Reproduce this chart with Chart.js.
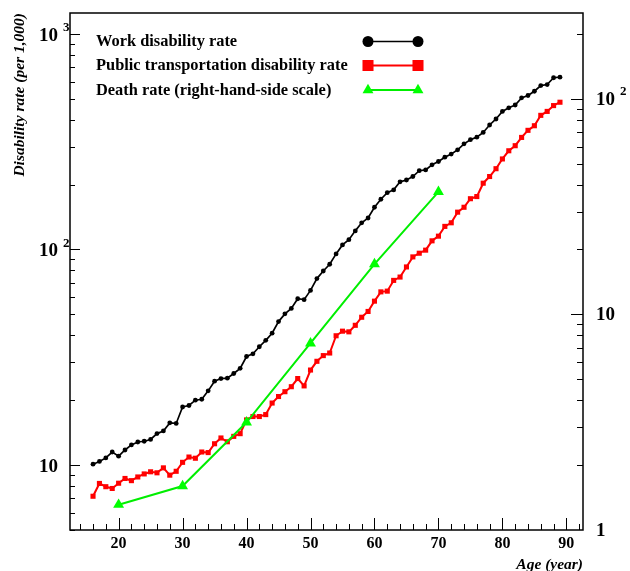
<!DOCTYPE html>
<html>
<head>
<meta charset="utf-8">
<script src="https://cdn.jsdelivr.net/npm/chart.js@4.4.0/dist/chart.umd.min.js"></script>
<style>
  html, body { margin: 0; padding: 0; background: #fff; }
  canvas { display: block; }
</style>
</head>
<body>
<canvas id="chart" width="630" height="571"></canvas>
<script>
// ages (year)
const ages = [16,17,18,19,20,21,22,23,24,25,26,27,28,29,30,31,32,33,34,35,36,37,38,39,40,41,42,43,44,45,46,47,48,49,50,51,52,
  53,54,55,56,57,58,59,60,61,62,63,64,65,66,67,68,69,70,71,72,73,74,75,76,77,78,79,80,81,82,83,84,85,86,87,88,89];

// per 1,000 (left scale)
const workRate = [10.1,10.4,10.8,11.5,11.0,11.75,12.4,12.8,12.9,13.15,14.0,14.4,15.7,15.6,18.6,18.9,20.0,20.2,22.1,24.5,
  25.2,25.3,26.6,28.1,31.9,32.8,35.4,37.9,40.9,46.3,50.3,53.3,59.1,58.5,64.6,73.3,79.5,85.4,95.4,105,
  111,122,133,140,157,171,183.5,189,206,210,218,232,234,247,256,268,277,290,
  309,323,332,349,378,403,437,454,468,505,518,542,576,582,626,630];

const transportRate = [7.17,8.22,7.94,7.79,8.24,8.67,8.47,8.81,9.10,9.31,9.21,9.71,8.98,9.36,10.3,10.9,10.76,11.5,11.43,12.56,
  13.36,12.83,13.59,13.99,16.2,16.8,16.8,17.15,19.4,20.8,21.9,23.1,25.2,23.3,27.6,30.3,32.2,33.1,39.8,41.8,
  41.5,44.5,48.5,51.6,57.6,63.6,64.1,71.9,74.5,83,92.4,96.1,99.3,109.7,115.3,128,133,149,
  157,172,176,203,218,237,263,287,303,331,357,375,419,437,465,482];

// death rate (right-hand-side scale)
const deathAges = [20,30,40,50,60,70];
const deathRate = [1.31,1.60,3.16,7.35,17.1,37.0];

const seriesLabels = ['Work disability rate', 'Public transportation disability rate', 'Death rate (right-hand-side scale)'];

// axis labels
const xTickValues = [20,30,40,50,60,70,80,90];
const leftTickValues = [10,100,1000];
const leftTickExp = ['', '2', '3'];
const rightTickValues = [1,10,100];
const rightTickText = ['1', '10', '10'];
const rightTickExp = ['', '', '2'];

const SERIF = '"Liberation Serif", "Times New Roman", serif';

const decor = {
  id: 'decor',
  afterDraw(chart) {
    const ctx = chart.ctx;
    const a = chart.chartArea;
    const xs = chart.scales.x, yl = chart.scales.y, yr = chart.scales.y2;
    ctx.save();
    ctx.strokeStyle = '#000';
    ctx.fillStyle = '#000';
    ctx.lineWidth = 1.5;
    ctx.strokeRect(a.left, a.top, a.right - a.left, a.bottom - a.top);

    ctx.lineWidth = 1;
    ctx.beginPath();
    // left ticks
    for (let d = 1; d <= 1000; d *= 10) {
      for (let m = 1; m <= 9; m++) {
        const v = m * d;
        if (v < yl.min || v > yl.max) continue;
        const y = Math.round(yl.getPixelForValue(v)) + 0.5;
        const len = m === 1 ? 10 : 5;
        ctx.moveTo(a.left, y); ctx.lineTo(a.left + len, y);
      }
    }
    // right ticks
    for (let d = 1; d <= 100; d *= 10) {
      for (let m = 1; m <= 9; m++) {
        const v = m * d;
        if (v <= yr.min || v > yr.max) continue;
        const y = Math.round(yr.getPixelForValue(v)) + 0.5;
        const len = m === 1 ? 12 : 6;
        ctx.moveTo(a.right, y); ctx.lineTo(a.right - len, y);
      }
    }
    // bottom ticks
    for (let t = 14; t <= 92; t += 2) {
      const x = Math.round(xs.getPixelForValue(t)) + 0.5;
      const len = t % 10 === 0 ? 12 : 6;
      ctx.moveTo(x, a.bottom); ctx.lineTo(x, a.bottom - len);
    }
    ctx.stroke();

    // tick labels
    ctx.textBaseline = 'middle';
    ctx.font = 'bold 16px ' + SERIF;
    ctx.textAlign = 'center';
    xTickValues.forEach(v => ctx.fillText(String(v), xs.getPixelForValue(v), a.bottom + 14));

    leftTickValues.forEach((v, i) => {
      const y = yl.getPixelForValue(v) + 2;
      ctx.font = 'bold 19px ' + SERIF;
      ctx.textAlign = 'right';
      ctx.fillText('10', a.left - 12, y);
      if (leftTickExp[i]) {
        ctx.font = 'bold 13px ' + SERIF;
        ctx.textAlign = 'left';
        ctx.fillText(leftTickExp[i], a.left - 7, y - 8);
      }
    });
    rightTickValues.forEach((v, i) => {
      const y = yr.getPixelForValue(v) + 1;
      ctx.font = 'bold 19px ' + SERIF;
      ctx.textAlign = 'left';
      ctx.fillText(rightTickText[i], a.right + 13, y);
      if (rightTickExp[i]) {
        const w = ctx.measureText(rightTickText[i]).width;
        ctx.font = 'bold 13px ' + SERIF;
        ctx.fillText(rightTickExp[i], a.right + 13 + w + 5, y - 8);
      }
    });

    // axis titles
    ctx.font = 'bold italic 15.5px ' + SERIF;
    ctx.textAlign = 'right';
    ctx.fillText('Age (year)', a.right, 565);
    ctx.save();
    ctx.translate(20, a.top);
    ctx.rotate(-Math.PI / 2);
    ctx.fillText('Disability rate (per 1,000)', 0, 0);
    ctx.restore();

    // legend
    const rows = [42, 66, 90.5];
    chart.data.datasets.forEach((ds, i) => {
      const y = rows[i];
      ctx.font = 'bold 16.4px ' + SERIF;
      ctx.textAlign = 'left';
      ctx.fillStyle = '#000';
      ctx.fillText(ds.label, 96, y);
      ctx.strokeStyle = ds.borderColor;
      ctx.lineWidth = ds.borderWidth;
      ctx.beginPath();
      ctx.moveTo(368, y - 0.5); ctx.lineTo(418, y - 0.5);
      ctx.stroke();
      ctx.fillStyle = ds.backgroundColor;
      const r = ds.legendRadius;
      [368, 418].forEach(x => Chart.helpers.drawPoint(ctx, {pointStyle: ds.pointStyle, radius: r, rotation: 0, borderWidth: 0}, x, y - 0.5));
    });
    ctx.restore();
  }
};

new Chart(document.getElementById('chart'), {
  type: 'line',
  data: {
    datasets: [
      {
        label: seriesLabels[0],
        data: ages.map((a, i) => ({x: a, y: workRate[i]})),
        yAxisID: 'y',
        borderColor: '#000', backgroundColor: '#000', borderWidth: 1.7,
        pointStyle: 'circle', pointRadius: 2.4, pointBorderWidth: 0, legendRadius: 5.5,
        order: 2
      },
      {
        label: seriesLabels[1],
        data: ages.map((a, i) => ({x: a, y: transportRate[i]})),
        yAxisID: 'y',
        borderColor: '#ff0000', backgroundColor: '#ff0000', borderWidth: 2,
        pointStyle: 'rect', pointRadius: 3.6, pointBorderWidth: 0, legendRadius: 7.8,
        order: 1
      },
      {
        label: seriesLabels[2],
        data: deathAges.map((a, i) => ({x: a, y: deathRate[i]})),
        yAxisID: 'y2',
        borderColor: '#00ee00', backgroundColor: '#00ff00', borderWidth: 2,
        pointStyle: 'triangle', pointRadius: 6.3, pointBorderWidth: 0, legendRadius: 6.3,
        order: 0
      }
    ]
  },
  options: {
    responsive: false,
    animation: false,
    devicePixelRatio: 1,
    layout: { padding: {top: 13, left: 0, right: 0, bottom: 0} },
    plugins: { legend: {display: false}, tooltip: {enabled: false} },
    scales: {
      x: {
        type: 'linear', min: 12.4, max: 92.6,
        grid: {display: false}, border: {display: false}, ticks: {display: false},
        afterFit: s => { s.height = 41; }
      },
      y: {
        type: 'logarithmic', position: 'left', min: 5, max: 1250,
        grid: {display: false}, border: {display: false}, ticks: {display: false},
        afterFit: s => { s.width = 70; }
      },
      y2: {
        type: 'logarithmic', position: 'right', min: 1, max: 250,
        grid: {display: false}, border: {display: false}, ticks: {display: false},
        afterFit: s => { s.width = 47; }
      }
    }
  },
  plugins: [decor]
});
</script>
</body>
</html>
